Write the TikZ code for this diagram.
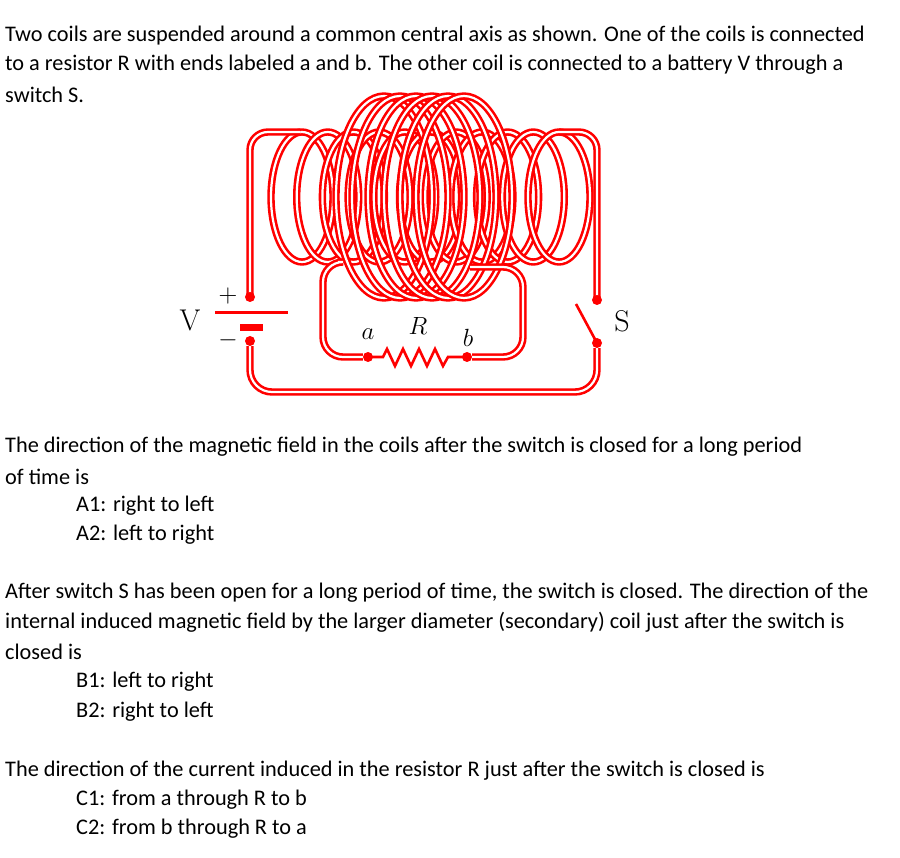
\documentclass[tikz,border=0pt]{standalone}
\usepackage{fontspec}
\setmainfont{Carlito}
\newfontfamily\lmfont{Latin Modern Roman}
\begin{document}
\begin{tikzpicture}[x=1pt,y=-1pt,
  txt/.style={anchor=west,inner sep=0pt,font=\fontsize{22.3}{26}\selectfont},
  wire/.style={draw=red,double=white,line width=2.6pt,double distance=2.2pt},
  lbl/.style={font=\lmfont\fontsize{30}{32}\selectfont,inner sep=0pt},
  dot/.style={circle,fill=red,inner sep=0pt,minimum size=10pt}]
\useasboundingbox (0,0) rectangle (900,858);
% texts
\node[txt] (t1) at (5,36) {Two coils are suspended around a common central axis as shown. One of the coils is connected};
\node[txt] (t2) at (5,65) {to a resistor R with ends labeled a and b. The other coil is connected to a battery V through a};
\node[txt] (t3) at (5,95) {switch S.};
\node[txt] (q1) at (5,447) {The direction of the magnetic field in the coils after the switch is closed for a long period};
\node[txt] (q1b) at (5,477) {of time is};
\node[txt] (a1) at (76,506) {A1: right to left};
\node[txt] (a2) at (76,535) {A2: left to right};
\node[txt] (q2) at (5,593) {After switch S has been open for a long period of time, the switch is closed. The direction of the};
\node[txt] (q2b) at (5,622) {internal induced magnetic field by the larger diameter (secondary) coil just after the switch is};
\node[txt] (q2c) at (5,652) {closed is};
\node[txt] (b1) at (76,682) {B1: left to right};
\node[txt] (b2) at (76,712) {B2: right to left};
\node[txt] (q3) at (5,771) {The direction of the current induced in the resistor R just after the switch is closed is};
\node[txt] (c1) at (76,800) {C1: from a through R to b};
\node[txt] (c2) at (76,829) {C2: from b through R to a};
% small coil (primary)
\foreach \i in {0,...,10} {
  \draw[wire] (302+\i*25.7,197) ellipse (31 and 65);
}
% large coil (secondary)
\foreach \i in {0,...,5} {
  \draw[wire] (384+\i*16,197) ellipse (48 and 101);
}
% primary leads
\coordinate (pl) at (250,297);
\coordinate (pr) at (597,300);
\draw[wire,rounded corners=18pt] (300,132) -- (250,132) -- (pl);
\draw[wire,rounded corners=18pt] (559,132) -- (597,132) -- (pr);
% battery
\node[dot] (bp) at (250,297) {};
\draw[red,line width=3pt] (215,313) -- (288,313);
\draw[red,line width=7pt] (240,328) -- (263,328);
\node[dot] (bm) at (250,341) {};
\node[lbl,font=\lmfont\fontsize{26}{28}\selectfont] (plus) at (228,296) {+};
\node[lbl,font=\lmfont\fontsize{26}{28}\selectfont] (minus) at (228,340) {$-$};
\node[lbl] (V) at (190,320) {V};
% switch
\node[dot] (s1) at (597,300) {};
\node[dot] (s2) at (597,343) {};
\draw[red,line width=2.6pt] (s2.center) -- (576,304);
\node[lbl] (S) at (622,321) {S};
\draw[wire,rounded corners=22pt] (bm) -- (250,392) -- (597,392) -- (s2);
% secondary leads and resistor
\node[dot] (ra) at (368,357) {};
\node[dot] (rb) at (467,357) {};
\draw[wire,rounded corners=20pt] (338,262) -- (323,262) -- (323,357) -- (ra);
\draw[wire,rounded corners=20pt] (470,267) -- (523,267) -- (523,357) -- (rb);
\draw[red,line width=2.6pt,line join=miter] (ra.center) -- (383,357) -- (387,349) -- (395,366) -- (403,349) -- (411,366) -- (419,349) -- (427,366) -- (435,349) -- (443,366) -- (448,357) -- (rb.center);
\node[lbl,font=\lmfont\fontsize{26}{28}\selectfont] (la) at (368,334) {$a$};
\node[lbl,font=\lmfont\fontsize{28}{30}\selectfont] (lR) at (418,326) {$R$};
\node[lbl,font=\lmfont\fontsize{26}{28}\selectfont] (lb) at (468,338) {$b$};
\end{tikzpicture}
\end{document}
